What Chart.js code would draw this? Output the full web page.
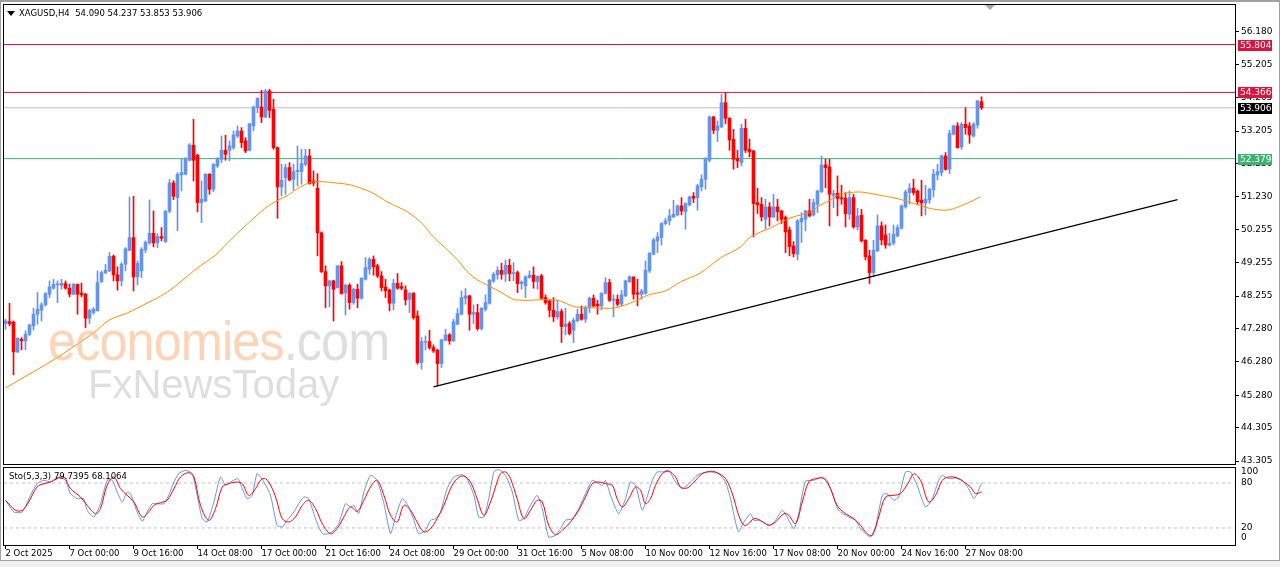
<!DOCTYPE html>
<html>
<head>
<meta charset="utf-8">
<script src="https://cdn.jsdelivr.net/npm/chart.js@4.4.1/dist/chart.umd.min.js"></script>
<style>
  html, body { margin:0; padding:0; background:#fff; }
  #wrap { position:relative; width:1280px; height:567px; overflow:hidden; background:#fff; font-family:'DejaVu Sans', sans-serif; }
  canvas { position:absolute; left:0; }
  #main { top:0; }
  #osc { top:466px; }
  .txt { position:absolute; font-size:8.5px; color:#000; white-space:pre; line-height:10px; }
  .tri { position:absolute; width:0; height:0; border-left:4px solid transparent; border-right:4px solid transparent; }
  #frame { position:absolute; left:0; top:0; width:1280px; height:561px; box-sizing:border-box; border:1px solid #a0a0a0; border-top:2px solid #a0a0a0; pointer-events:none; }
  #strip { position:absolute; left:0; top:561px; width:1280px; height:6px; background:#f0f0f0; }
  .wm { position:absolute; white-space:pre; pointer-events:none; font-family:'Liberation Sans', Arial, sans-serif; }
</style>
</head>
<body>
<div id="wrap">
  <canvas id="main" width="1280" height="466"></canvas>
  <canvas id="osc" width="1280" height="101"></canvas>
  <div class="wm" style="left:48px;top:308px;font-size:56px;color:rgba(250,185,140,0.62);transform:scaleX(0.9);transform-origin:0 0;letter-spacing:-1px">economies<span style="color:rgba(200,200,200,0.6)">.com</span></div>
  <div class="wm" style="left:88px;top:362px;font-size:40px;color:rgba(200,200,200,0.6)">FxNewsToday</div>
  <div class="tri" style="left:7px;top:11px;border-top:5px solid #000"></div>
  <div class="txt" style="left:19px;top:8px">XAGUSD,H4  54.090 54.237 53.853 53.906</div>
  <div class="tri" style="left:985px;top:5px;border-left:5px solid transparent;border-right:5px solid transparent;border-top:5px solid #a8a8a8"></div>
  <div class="txt" style="left:9px;top:471px">Sto(5,3,3) 79.7395 68.1064</div>
  <div id="frame"></div>
  <div id="strip"></div>
</div>
<script>
// H4 candles, index 0 = first bar on the left
var openP = [47.43,47.49,47.47,46.58,46.96,46.91,47.11,47.36,47.71,47.83,47.99,48.31,48.49,48.59,48.58,48.63,48.49,48.31,48.61,48.34,
  48.31,47.59,47.76,47.81,48.69,48.95,49.01,49.45,48.89,48.71,49.21,49.63,50.01,48.83,49.01,49.64,49.85,50.14,49.85,50.04,
  49.89,50.80,51.65,51.21,51.89,51.91,52.33,52.78,52.48,51.06,51.11,51.91,51.46,52.16,52.36,52.63,52.63,52.71,53.06,53.21,
  52.91,52.63,53.36,53.91,53.93,53.63,54.41,53.86,52.71,51.53,51.81,52.11,51.76,51.99,51.99,52.21,52.46,51.71,51.49,50.15,
  48.99,48.56,48.71,48.51,49.16,48.36,48.58,48.06,48.46,48.19,48.76,49.06,49.36,49.16,48.86,48.53,48.44,48.04,48.64,48.54,
  48.44,48.16,48.34,47.66,46.26,46.87,46.89,46.71,46.63,46.23,46.93,47.09,46.91,47.41,47.71,48.19,48.26,47.71,47.76,47.28,
  47.86,48.04,48.71,48.89,49.03,48.91,49.18,48.93,48.96,48.63,48.56,48.81,48.88,48.69,48.86,48.21,48.11,47.83,47.63,47.79,
  47.34,47.43,47.23,47.51,47.71,47.56,47.91,48.19,48.01,47.96,48.34,48.66,48.13,48.16,48.01,48.26,48.69,48.83,48.35,48.31,
  48.33,49.01,49.51,49.91,50.01,50.43,50.51,50.63,50.69,50.96,50.79,50.99,51.25,51.21,51.53,51.76,52.33,53.63,53.23,53.33,
  54.06,53.59,52.96,52.39,52.26,53.29,52.66,52.61,51.06,51.01,50.56,50.93,50.63,50.93,50.81,50.61,50.24,49.76,49.51,50.48,
  50.56,50.81,50.69,51.01,51.39,52.19,52.13,51.28,51.34,51.19,51.19,50.71,51.21,50.33,50.68,49.93,49.46,48.96,49.61,50.36,
  50.09,49.78,49.84,50.06,50.29,50.93,51.36,51.49,51.41,51.13,51.05,51.14,51.44,51.89,51.96,52.46,52.06,53.11,53.36,52.73,
  53.41,53.36,53.06,53.39,54.09];
var highP = [47.56,48.04,47.51,47.01,47.01,47.21,47.41,47.89,48.36,48.06,48.36,48.71,48.76,48.71,48.76,48.71,48.61,48.63,48.61,48.64,
  48.34,47.86,47.91,49.01,49.01,49.21,49.56,49.49,49.13,49.26,49.71,51.23,51.25,49.31,49.71,49.91,51.14,50.81,50.13,50.31,
  50.83,51.75,51.72,51.96,52.36,52.41,52.83,53.56,52.51,51.71,51.93,51.93,52.23,52.41,53.06,53.08,52.91,53.21,53.36,53.31,
  53.01,53.43,53.96,54.21,54.43,54.46,54.46,54.16,52.73,52.21,52.21,52.26,52.21,52.76,52.66,52.66,52.66,52.01,51.93,50.18,
  49.16,48.73,48.73,49.18,49.29,48.61,48.63,48.49,48.61,48.81,49.41,49.41,49.46,49.21,48.99,48.76,48.46,48.76,48.93,48.66,
  48.56,48.36,48.36,47.81,47.01,47.06,47.23,46.79,46.66,46.96,47.26,47.13,47.56,47.88,48.41,48.48,48.28,47.99,48.01,47.91,
  48.29,48.76,48.96,49.13,49.24,49.34,49.36,49.26,49.01,48.71,48.86,49.01,49.13,48.86,48.91,48.29,48.13,48.21,48.13,47.86,
  47.89,47.49,47.59,47.86,47.96,47.96,48.23,48.29,48.13,48.36,48.81,48.76,48.29,48.29,48.43,48.73,48.86,48.83,48.76,48.46,
  49.31,49.56,49.99,50.16,50.46,50.59,50.86,51.13,50.99,51.21,51.06,51.26,51.36,51.61,51.89,52.41,53.66,53.65,53.51,54.31,
  54.36,53.61,53.26,52.63,53.41,53.56,52.96,52.63,51.49,51.21,51.16,51.06,51.31,51.16,50.83,50.66,50.33,49.89,50.56,50.76,
  50.83,51.16,51.16,51.43,52.46,52.36,52.36,51.43,51.86,51.58,51.36,51.41,51.31,50.89,50.86,49.95,49.63,49.93,50.69,50.48,
  50.39,50.14,50.39,50.39,50.99,51.43,51.63,51.76,51.43,51.73,51.58,51.49,52.06,52.21,52.49,52.56,53.23,53.39,53.46,53.46,
  53.91,53.46,53.46,54.13,54.237];
var lowP = [47.26,47.36,45.89,46.56,46.64,46.64,47.06,47.23,47.41,47.51,47.96,48.21,48.46,48.06,48.46,48.46,48.23,48.29,47.71,48.23,
  47.31,47.43,47.71,47.81,48.66,48.93,48.99,48.71,48.43,48.56,49.01,49.61,48.41,48.59,48.81,49.56,49.81,49.73,49.71,49.91,
  49.86,50.75,51.15,50.21,51.41,51.89,52.31,51.71,50.78,50.46,51.09,51.31,51.39,52.11,52.26,52.33,52.31,52.66,53.01,52.71,
  52.56,52.61,53.21,53.76,53.46,53.61,53.61,52.66,50.59,51.26,51.31,51.71,51.43,51.56,51.61,52.16,51.61,51.56,49.46,48.96,
  47.91,47.93,47.51,48.49,48.31,47.69,47.86,48.01,47.91,48.16,48.73,48.91,48.88,48.81,48.41,48.21,47.81,47.84,48.46,48.44,
  47.99,47.76,47.56,46.21,46.06,46.64,46.66,46.56,45.56,46.11,46.91,46.81,46.89,47.39,47.69,48.01,47.23,47.43,47.23,47.23,
  47.81,48.01,48.66,48.76,48.76,48.69,48.71,48.71,48.36,48.46,48.21,48.79,48.49,48.46,48.16,48.01,47.63,47.49,47.56,46.86,
  47.09,47.09,46.86,47.49,47.53,47.46,47.76,47.93,47.71,47.84,48.31,48.09,47.63,47.96,47.96,48.24,48.66,48.16,47.96,48.16,
  48.31,48.96,49.49,49.56,49.79,50.39,50.39,50.61,50.66,50.69,50.26,50.96,51.06,50.83,51.41,51.46,52.28,53.13,52.89,53.31,
  53.43,52.63,52.06,52.11,52.16,52.56,52.43,50.03,50.73,50.51,50.26,50.36,50.61,50.51,50.43,49.56,49.46,49.43,49.34,49.86,
  50.21,50.63,50.66,50.76,51.36,51.51,50.36,50.91,50.66,51.01,50.33,50.56,50.29,50.24,49.88,49.34,48.63,48.83,49.59,49.79,
  49.69,49.76,49.79,50.03,50.26,50.89,51.01,51.29,50.99,50.66,50.69,51.04,51.23,51.74,51.86,52.03,51.93,53.09,52.69,52.66,
  53.11,52.84,53.03,53.29,53.853];
var closeP = [47.51,47.43,46.58,46.99,46.91,47.11,47.39,47.71,47.86,47.99,48.33,48.53,48.61,48.61,48.64,48.49,48.31,48.61,48.31,48.29,
  47.59,47.83,47.86,48.66,48.96,49.03,49.45,48.89,48.71,49.21,49.67,50.01,48.83,49.24,49.66,49.87,50.14,49.85,50.04,49.99,
  50.80,51.65,51.25,51.91,51.96,52.39,52.79,52.33,51.06,51.16,51.91,51.46,52.21,52.39,52.63,52.51,52.76,53.09,53.21,52.86,
  52.61,53.43,53.93,54.19,53.63,54.41,53.83,52.71,51.53,51.73,52.11,51.74,51.99,52.03,52.23,52.46,51.63,51.65,50.15,48.99,
  48.56,48.71,48.46,49.16,48.33,48.58,48.06,48.46,48.19,48.79,49.11,49.36,49.13,48.86,48.51,48.41,48.04,48.64,48.49,48.49,
  48.14,48.34,47.61,46.26,46.89,46.89,46.71,46.61,46.23,46.94,47.09,46.91,47.48,47.73,48.21,48.26,47.71,47.76,47.28,47.89,
  48.06,48.73,48.91,49.03,48.91,49.18,48.93,48.96,48.63,48.68,48.83,48.88,48.69,48.85,48.19,48.06,47.83,47.63,47.79,47.34,
  47.41,47.13,47.53,47.71,47.56,47.91,48.19,47.96,47.96,48.34,48.66,48.13,48.16,48.01,48.29,48.71,48.83,48.31,48.31,48.41,
  49.03,49.54,49.94,50.03,50.43,50.51,50.66,50.71,50.96,50.81,51.03,51.23,51.19,51.56,51.76,52.39,53.63,53.23,53.36,54.06,
  53.59,52.94,52.36,52.31,53.29,52.63,52.58,51.03,50.99,50.63,50.93,50.63,50.93,50.79,50.56,50.18,49.74,49.53,50.51,50.59,
  50.81,50.66,51.06,51.41,52.19,52.11,51.31,51.33,51.18,51.17,50.73,51.21,50.33,50.66,49.91,49.43,48.96,49.63,50.36,49.94,
  49.79,49.84,50.11,50.31,50.96,51.38,51.49,51.36,51.09,51.05,51.16,51.46,51.91,51.99,52.46,52.06,53.14,53.36,52.71,53.41,
  53.31,53.09,53.41,54.11,53.906];

// moving average: [bar index, price]
var maLine = [[0,45.50],[12,46.34],[22,47.15],[26,47.54],[30.5,47.75],[35.5,48.05],[40.5,48.38],[48,49.10],[52.5,49.49],[56.75,50.00],
  [60.75,50.45],[65,50.90],[68.25,51.14],[70.75,51.29],[73.25,51.50],[76.75,51.68],[80,51.68],[82.5,51.65],[86.25,51.59],[91.25,51.38],
  [95.5,51.08],[100.5,50.78],[103.75,50.48],[107,50.03],[110.5,49.64],[113,49.34],[115.5,48.98],[118,48.74],[121.25,48.53],[123.75,48.38],
  [127.5,48.14],[137.5,48.14],[142.5,47.93],[147.5,47.90],[152.5,47.90],[157.5,48.11],[160.75,48.29],[165,48.41],[168.75,48.68],[173.75,48.95],
  [178.75,49.40],[183.75,49.73],[186.25,50.03],[191.25,50.30],[196.25,50.60],[201.25,50.78],[203.75,50.99],[206.25,51.14],[208.25,51.29],[213.25,51.38],
  [218.25,51.29],[223.25,51.17],[228.25,50.99],[231.75,50.87],[235.75,50.84],[240,51.02],[243.75,51.23]];

// support trend line end points
var trendLine = [[107,45.53],[293,51.15]];

// horizontal levels and their colours
var levelVals = [55.804, 54.366, 53.906, 52.379];
var levelCols = ['#dc143c', '#dc143c', '#c0c0c0', '#3cb371'];
var levelBox = ['#dc143c', '#dc143c', '#000000', '#3cb371'];

var priceTicks = [56.180,55.205,54.205,53.205,52.230,51.230,50.255,49.255,48.255,47.280,46.280,45.280,44.305,43.305];
var timeLabels = ['2 Oct 2025','7 Oct 00:00','9 Oct 16:00','14 Oct 08:00','17 Oct 00:00','21 Oct 16:00','24 Oct 08:00','29 Oct 00:00',
  '31 Oct 16:00','5 Nov 08:00','10 Nov 00:00','12 Nov 16:00','17 Nov 08:00','20 Nov 00:00','24 Nov 16:00','27 Nov 08:00'];

// stochastic (5,3,3): [bar index, value]
var stochK = [[0,56.9],[2.1,41.3],[4.2,41.3],[6.25,63.6],[7.9,79.1],[9.6,83.6],[11.25,81.3],[13.3,88],[15,83.6],[16.25,65.8],
  [17.9,59.1],[19.6,59.1],[20.4,43.6],[22.1,34.7],[23.75,52.4],[25.4,83.6],[26.7,83.6],[27.9,68],[29.2,54.7],[30.4,68],
  [31.25,65.8],[32.9,41.3],[34.2,28.9],[35.4,41.3],[36.7,52.4],[37.9,52.4],[39.6,52.4],[40.8,63.6],[42.1,81.3],[43.3,92.4],
  [45,96.9],[46.7,92.4],[47.9,63.6],[49.2,32.4],[50.4,28],[52.1,54.7],[53.75,88],[55,76.9],[56.25,81.3],[58.1,85.8],
  [59.2,72.4],[60.4,59.1],[61.7,63.6],[62.9,92.4],[64.6,81.3],[66.25,63.6],[67.9,23.6],[69.2,21.3],[70.4,30.2],[72.1,41.3],
  [73.3,52.4],[74.6,61.3],[75.8,59.1],[77.5,32.4],[79.2,12.4],[80.8,12.4],[82.1,16.9],[83.3,25.8],[85,52.4],[86.25,48],
  [87.1,50.2],[88.3,39.1],[89.6,68],[91.25,90.2],[92.9,83.6],[94.6,52.4],[96.25,12.4],[97.5,34.7],[99.2,59.1],[100.8,48],
  [102.1,30.2],[103.3,12.4],[105,16.9],[106.25,30.2],[107.5,32.4],[108.75,41.3],[110.4,72.4],[112.1,88],[114.2,91.1],[115.4,85.8],
  [117.1,63.6],[118.3,34.7],[119.6,34.7],[120.8,59.1],[122.1,94.7],[123.3,98],[125,90.2],[126.7,68],[128.3,30.2],[129.6,32.4],
  [130.8,45.8],[132.9,63.6],[134.2,45.8],[135.8,8],[137.5,10.2],[138.75,19.1],[140,30.2],[141.7,32.4],[143.3,45.8],[145,65.8],
  [146.7,83.6],[148.3,79.1],[149.2,76.9],[150,83.6],[151.25,63.6],[153.3,39.1],[155,59.1],[156.25,81.3],[157.5,76.9],[159.2,43.6],
  [160.4,61.3],[161.7,83.6],[162.9,94.7],[164.2,94.7],[165.8,96.9],[167.5,81.3],[169.2,72.4],[170.4,76.9],[171.7,83.6],[172.9,90.2],
  [174.2,93.3],[176.25,94.7],[178.3,92.4],[180,81.3],[181.25,59.1],[182.5,28],[183.3,14.7],[184.6,28],[186.25,39.1],[187.1,30.2],
  [188.3,30.2],[190,25.8],[191.25,23.6],[192.5,30.2],[194.2,43.6],[195.4,34.7],[197.1,19.1],[198.3,39.1],[200,82.2],[202.1,83.6],
  [204.2,88],[205.4,83.6],[206.7,65.8],[208.3,43.6],[210.8,34.7],[212.5,30.2],[213.75,19.1],[215,12.4],[216.25,8],[217.5,21.3],
  [219.2,63.6],[220.4,65.8],[222.1,56.9],[223.3,61.3],[225,94.7],[226.25,94.7],[227.9,76.9],[230,48],[231.7,59.1],[233.3,83.6],
  [234.2,90.2],[235.8,85.8],[237.5,86.7],[239.2,83.6],[240.8,72.4],[242.1,59.1],[242.9,65.8],[244,79.74]];
var stochD = [[0,56.9],[2.5,43.6],[4.2,43.6],[5.8,54.7],[7.9,74.7],[9.6,79.1],[11.25,81.3],[12.9,85.8],[14.6,88],[16.25,72.4],
  [18.75,61.3],[20.4,50.2],[22.5,39.1],[23.75,45.8],[25.4,76.9],[27.1,88],[28.75,72.4],[30.4,63.6],[32.1,54.7],[34.2,34.7],
  [35.8,41.3],[37.1,50.2],[38.75,53.8],[40.4,56.9],[42.1,72.4],[43.75,88],[45.8,93.8],[47.1,88],[48.75,50.2],[50.8,30.2],
  [52.5,45.8],[54.2,74.7],[55.8,79.1],[57.9,81.3],[59.2,79.1],[60.8,63.6],[62.5,72.4],[63.75,83.6],[65,85.8],[66.7,72.4],
  [67.9,54.7],[69.2,32.4],[70.8,28],[72.5,34.7],[74.2,50.2],[75.8,56.9],[77.5,45.8],[79.2,25.8],[81.25,12.4],[82.9,19.1],
  [84.6,34.7],[86.25,48],[87.9,42.2],[89.6,56.9],[91.25,74.7],[92.9,83.6],[94.6,63.6],[96.25,36.9],[97.9,28],[99.6,50.2],
  [101.25,43.6],[102.9,28],[104.6,14.7],[106.25,19.1],[107.9,32.4],[109.6,50.2],[111.25,72.4],[112.9,85.8],[114.6,89.3],[116.25,81.3],
  [117.9,59.1],[119.6,36.9],[121.25,54.7],[122.9,81.3],[123.75,92.4],[125,94.7],[126.25,85.8],[127.9,59.1],[129.6,32.4],[131.25,43.6],
  [132.9,56.9],[134.2,54.7],[135.8,23.6],[137.5,11.1],[139.2,16.9],[141.25,28],[143.3,43.6],[145,61.3],[146.7,79.1],[148.3,81.3],
  [150,79.1],[151.7,76.9],[152.9,59.1],[154.2,48],[155.8,59.1],[157.5,74.7],[158.75,70.2],[160,52.4],[161.25,59.1],[162.5,76.9],
  [164.2,92.4],[165.8,95.6],[167.5,88],[168.75,74.7],[170.4,73.3],[172.1,81.3],[174.2,92.4],[176.25,95.6],[177.9,93.8],[180,85.8],
  [181.7,65.8],[183.3,36.9],[184.6,23.6],[185.8,25.8],[187.1,32.4],[188.75,30.2],[190.8,23.6],[192.5,28],[194.6,39.1],[195.8,36.9],
  [197.5,25.8],[199.2,54.7],[200.8,81.3],[202.5,85.8],[204.6,85.8],[206.25,72.4],[207.9,50.2],[210,39.1],[212.1,32.4],[213.75,23.6],
  [215.4,12.4],[216.7,10.2],[218.3,34.7],[220,61.3],[222.1,63.6],[223.75,65.8],[225.8,81.3],[227.1,92.4],[228.75,83.6],[230.8,54.7],
  [232.5,63.6],[234.2,83.6],[235.8,88],[237.9,86.7],[239.6,81.3],[241.25,74.7],[242.5,65.8],[244,68.11]];

var UP = '#6495ed', DOWN = '#ff0000';
var X_MIN = -0.375, X_MAX = 307.375;
var FONT = {family: 'DejaVu Sans', size: 9};
var FONT_X = {family: 'DejaVu Sans', size: 8.5};

function pts(arr) { return arr.map(function (p) { return {x: p[0], y: p[1]}; }); }

var barCols = openP.map(function (o, i) { return closeP[i] >= o ? UP : DOWN; });
var wicks = lowP.map(function (l, i) { return {x: i, y: [l, highP[i]]}; });
var bodies = openP.map(function (o, i) { return {x: i, y: [o, closeP[i]]}; });

var levelSets = levelVals.map(function (v, k) {
  return {type: 'line', data: [{x: X_MIN, y: v}, {x: X_MAX, y: v}], borderColor: levelCols[k], borderWidth: 1, pointRadius: 0, order: 5};
});

// border round the plot area
var framePlugin = {
  id: 'frame',
  afterDraw: function (chart) {
    var a = chart.chartArea, ctx = chart.ctx;
    ctx.save();
    ctx.strokeStyle = '#000';
    ctx.lineWidth = 1;
    ctx.strokeRect(a.left - 0.5, a.top - 0.5, a.right - a.left + 1, a.bottom - a.top + 1);
    ctx.restore();
  }
};

// coloured price boxes on the right axis
var levelTags = {
  id: 'levelTags',
  afterDraw: function (chart) {
    var y = chart.scales.y, ctx = chart.ctx;
    ctx.save();
    ctx.font = '9px "DejaVu Sans"';
    ctx.textBaseline = 'middle';
    levelVals.forEach(function (v, k) {
      var py = Math.round(y.getPixelForValue(v));
      ctx.fillStyle = levelBox[k];
      ctx.fillRect(1238, py - 5, 34, 11);
      ctx.fillStyle = '#fff';
      ctx.fillText(v.toFixed(3), 1240, py + 0.5);
    });
    ctx.restore();
  }
};

function noPad(s) { s.paddingTop = 0; s.paddingBottom = 0; s.paddingLeft = 0; s.paddingRight = 0; }

new Chart(document.getElementById('main'), {
  type: 'bar',
  data: {
    datasets: [
      {type: 'line', data: pts(maLine), borderColor: '#ff8c00', borderWidth: 1, pointRadius: 0, tension: 0.3, order: 0},
      {type: 'line', data: pts(trendLine), borderColor: '#000', borderWidth: 1.2, pointRadius: 0, order: 1},
      {data: bodies, backgroundColor: barCols, barThickness: 3, grouped: false, minBarLength: 1, order: 2},
      {data: wicks, backgroundColor: barCols, barThickness: 1, grouped: false, minBarLength: 1, order: 3}
    ].concat(levelSets)
  },
  options: {
    responsive: false,
    animation: false,
    events: [],
    layout: {padding: {left: 4, top: 5, right: 0, bottom: 2}},
    plugins: {legend: {display: false}, tooltip: {enabled: false}},
    scales: {
      x: {type: 'linear', min: X_MIN, max: X_MAX, offset: false, display: false},
      y: {
        position: 'right', min: 43.215, max: 56.99,
        afterFit: function (s) { s.width = 45; noPad(s); },
        afterBuildTicks: function (s) { s.ticks = priceTicks.map(function (v) { return {value: v}; }); },
        grid: {drawOnChartArea: false, drawTicks: true, tickLength: 4, color: '#000'},
        border: {display: false},
        ticks: {padding: 2, color: '#000', font: FONT, autoSkip: false,
          callback: function (v) { return Number(v).toFixed(3); }}
      }
    }
  },
  plugins: [framePlugin, levelTags]
});

// stochastic panel labels on the right
var oscTags = {
  id: 'oscTags',
  afterDraw: function (chart) {
    var y = chart.scales.y, ctx = chart.ctx;
    ctx.save();
    ctx.font = '9px "DejaVu Sans"';
    ctx.fillStyle = '#000';
    ctx.textBaseline = 'middle';
    [[100, 4], [80, 0], [20, 0], [0, -5]].forEach(function (t) {
      ctx.fillText(String(t[0]), 1241, y.getPixelForValue(t[0]) + t[1]);
    });
    ctx.restore();
  }
};

new Chart(document.getElementById('osc'), {
  type: 'line',
  data: {
    datasets: [
      {data: pts(stochD), borderColor: '#ff0000', borderWidth: 1, pointRadius: 0, tension: 0.35},
      {data: pts(stochK), borderColor: '#6495ed', borderWidth: 1, pointRadius: 0, tension: 0.2},
      {data: [{x: X_MIN, y: 80}, {x: X_MAX, y: 80}], borderColor: '#c0c0c0', borderWidth: 1, borderDash: [3, 3], pointRadius: 0},
      {data: [{x: X_MIN, y: 20}, {x: X_MAX, y: 20}], borderColor: '#c0c0c0', borderWidth: 1, borderDash: [3, 3], pointRadius: 0}
    ]
  },
  options: {
    responsive: false,
    animation: false,
    events: [],
    layout: {padding: {left: 4, top: 2, right: 0, bottom: 0}},
    plugins: {legend: {display: false}, tooltip: {enabled: false}},
    scales: {
      x: {
        type: 'linear', min: X_MIN, max: X_MAX, offset: false,
        afterFit: function (s) { s.height = 22; noPad(s); },
        afterBuildTicks: function (s) { s.ticks = timeLabels.map(function (t, k) { return {value: k * 16}; }); },
        grid: {drawOnChartArea: false, drawTicks: true, tickLength: 4, color: '#000'},
        border: {display: false},
        ticks: {align: 'start', maxRotation: 0, autoSkip: false, padding: 0, color: '#000', font: FONT_X,
          callback: function (v, idx) { return timeLabels[idx]; }}
      },
      y: {
        position: 'right', min: -2.7, max: 100,
        afterFit: function (s) { s.width = 45; noPad(s); },
        grid: {display: false}, border: {display: false}, ticks: {display: false}
      }
    }
  },
  plugins: [framePlugin, oscTags]
});
</script>
</body>
</html>
